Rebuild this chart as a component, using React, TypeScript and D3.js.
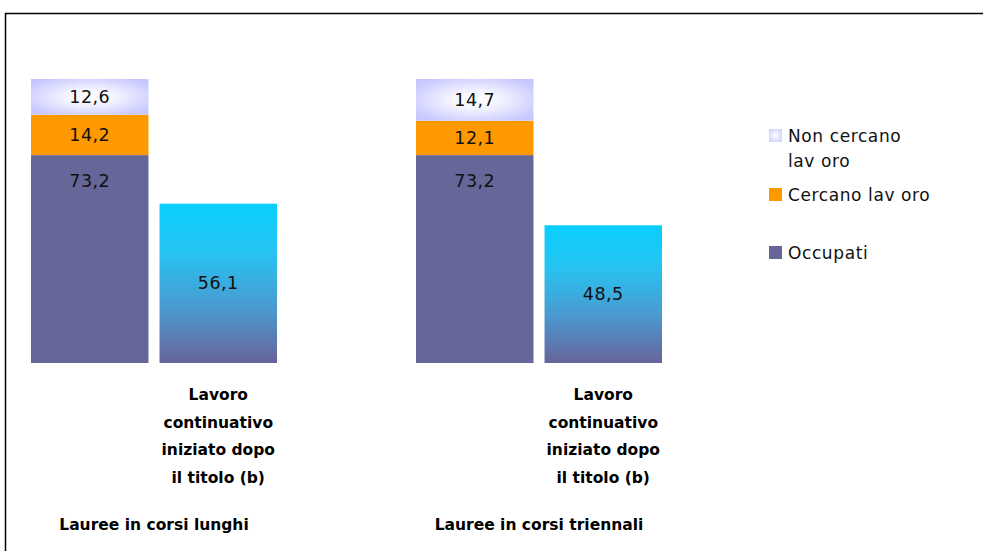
import React from "react";
import * as d3 from "d3";

const groups = ["Lauree in corsi lunghi", "Lauree in corsi triennali"];
const occupati = [73.2, 73.2];
const cercano = [14.2, 12.1];
const nonCercano = [12.6, 14.7];
const continuativo = [56.1, 48.5];
const contLabelLines = ["Lavoro", "continuativo", "iniziato dopo", "il titolo (b)"];
const seriesNames = ["Non cercano lavoro", "Cercano lavoro", "Occupati"];
const legendLines = [["Non cercano", "lav oro"], ["Cercano lav oro"], ["Occupati"]];

const W = 983;
const H = 551;
const FONT = "'DejaVu Sans', sans-serif";

const fmt = (v: number) => v.toFixed(1).replace(".", ",");

export default function App() {
  const y = d3.scaleLinear().domain([0, 100]).range([363, 79]);
  const xg = d3.scaleBand<string>().domain(groups).range([31, 31 + 385 * 2]);
  const xi = d3.scaleBand<string>().domain(["stack", "cont"]).range([0, 246]).paddingInner(0.086);
  const bw = xi.bandwidth();

  const legendColors = ["url(#ncLeg)", "#ff9900", "#666699"];
  const legendY = [129, 188, 246];

  return (
    <svg width={W} height={H} style={{ position: "absolute", left: 0, top: 0, background: "#fff" }}>
      <defs>
        <radialGradient id="nc" cx="0.5" cy="0.5" r="0.6">
          <stop offset="0%" stopColor="#ffffff" />
          <stop offset="35%" stopColor="#f4f4ff" />
          <stop offset="100%" stopColor="#c8c8ff" />
        </radialGradient>
        <radialGradient id="ncLeg" cx="0.5" cy="0.5" r="0.7">
          <stop offset="0%" stopColor="#ffffff" />
          <stop offset="100%" stopColor="#c8c8ff" />
        </radialGradient>
        <linearGradient id="cont" x1="0" y1="0" x2="0" y2="1">
          <stop offset="0%" stopColor="#08cfff" />
          <stop offset="30%" stopColor="#26c4f2" />
          <stop offset="65%" stopColor="#4a9ad0" />
          <stop offset="100%" stopColor="#68649a" />
        </linearGradient>
      </defs>
      <rect x={5.5} y={13.5} width={1000} height={600} fill="none" stroke="#000" strokeWidth={1.5} />
      {groups.map((g, i) => {
        const x0 = (xg(g) ?? 0) + (xi("stack") ?? 0);
        const x1 = (xg(g) ?? 0) + (xi("cont") ?? 0);
        const o = occupati[i];
        const c = cercano[i];
        const n = nonCercano[i];
        const gc = (xg(g) ?? 0) + 123;
        return (
          <g key={g}>
            <rect x={x0} y={y(o)} width={bw} height={y(0) - y(o)} fill="#666699" />
            <rect x={x0} y={y(o + c)} width={bw} height={y(o) - y(o + c)} fill="#ff9900" />
            <rect x={x0} y={y(o + c + n)} width={bw} height={y(o + c) - y(o + c + n)} fill="url(#nc)" />
            <rect x={x1} y={y(continuativo[i])} width={bw} height={y(0) - y(continuativo[i])} fill="url(#cont)" />
            <g fontFamily={FONT} fontSize={17.5} letterSpacing={0.5} fill="#111" textAnchor="middle">
              <text x={x0 + bw / 2} y={y(o) + 32}>{fmt(o)}</text>
              <text x={x0 + bw / 2} y={(y(o) + y(o + c)) / 2 + 6}>{fmt(c)}</text>
              <text x={x0 + bw / 2} y={(y(o + c) + y(o + c + n)) / 2 + 6}>{fmt(n)}</text>
              <text x={x1 + bw / 2} y={(y(0) + y(continuativo[i])) / 2 + 6}>{fmt(continuativo[i])}</text>
            </g>
            <g fontFamily={FONT} fontSize={15.5} fontWeight="bold" fill="#000" textAnchor="middle">
              {contLabelLines.map((l, k) => (
                <text key={k} x={x1 + bw / 2} y={400 + k * 27.5}>{l}</text>
              ))}
              <text x={gc} y={530}>{g}</text>
            </g>
          </g>
        );
      })}
      <g fontFamily={FONT} fontSize={17} letterSpacing={0.6} fill="#111">
        {seriesNames.map((s, i) => (
          <g key={s}>
            <rect x={769} y={legendY[i]} width={13} height={13} fill={legendColors[i]} />
            {legendLines[i].map((l, k) => (
              <text key={k} x={788} y={legendY[i] + 13 + k * 25}>{l}</text>
            ))}
          </g>
        ))}
      </g>
    </svg>
  );
}
